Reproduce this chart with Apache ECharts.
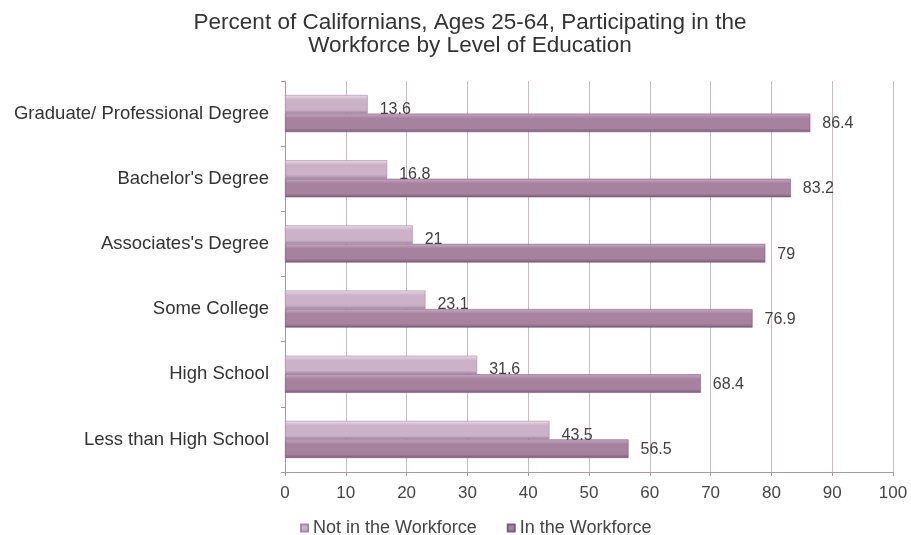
<!DOCTYPE html>
<html>
<head>
<meta charset="utf-8">
<script src="https://cdn.jsdelivr.net/npm/echarts@6/dist/echarts.min.js"></script>
<style>
  html, body { margin: 0; padding: 0; background: #ffffff; }
  #chart { width: 911px; height: 535px; }
</style>
</head>
<body>
<div id="chart"></div>
<script>
// Education levels, listed top to bottom
const categories = [
  'Graduate/ Professional Degree',
  "Bachelor's Degree",
  "Associates's Degree",
  'Some College',
  'High School',
  'Less than High School'
];
const notInWorkforce = [13.6, 16.8, 21, 23.1, 31.6, 43.5];
const inWorkforce = [86.4, 83.2, 79, 76.9, 68.4, 56.5];
const xTicks = [0, 10, 20, 30, 40, 50, 60, 70, 80, 90, 100];

const FONT = '"Liberation Sans", Arial, sans-serif';

function barGradient(top, mid, bottom) {
  return new echarts.graphic.LinearGradient(0, 0, 0, 1, [
    { offset: 0, color: top },
    { offset: 0.25, color: mid },
    { offset: 0.8, color: mid },
    { offset: 1, color: bottom }
  ]);
}

const chart = echarts.init(document.getElementById('chart'), null, { renderer: 'canvas' });

chart.setOption({
  backgroundColor: '#ffffff',
  animation: false,
  title: {
    text: 'Percent of Californians, Ages 25-64, Participating in the\nWorkforce by Level of Education',
    left: 470,
    top: 11,
    padding: 0,
    textAlign: 'center',
    textStyle: {
      fontFamily: FONT,
      fontSize: 22.5,
      fontWeight: 'normal',
      color: '#333333',
      lineHeight: 23
    }
  },
  legend: {
    left: 295,
    top: 514,
    icon: 'rect',
    itemWidth: 7,
    itemHeight: 7,
    itemGap: 30,
    textStyle: { fontFamily: FONT, fontSize: 18, color: '#444444', verticalAlign: 'top' },
    data: ['Not in the Workforce', 'In the Workforce']
  },
  grid: { left: 285, right: 18, top: 81, bottom: 63, containLabel: false },
  xAxis: {
    type: 'value',
    min: xTicks[0],
    max: xTicks[xTicks.length - 1],
    interval: xTicks[1] - xTicks[0],
    axisLine: { show: true, lineStyle: { color: '#a89a9a', width: 1 } },
    axisTick: { show: true, length: 4, lineStyle: { color: '#a89a9a' } },
    axisLabel: { fontFamily: FONT, fontSize: 17, color: '#444444', margin: 13 },
    splitLine: { show: true, lineStyle: { color: '#c9bcbc', width: 1 } }
  },
  yAxis: {
    type: 'category',
    inverse: true,
    data: categories,
    axisLine: { show: true, lineStyle: { color: '#a89a9a', width: 1 } },
    axisTick: { show: true, length: 4, lineStyle: { color: '#a89a9a' } },
    axisLabel: { fontFamily: FONT, fontSize: 18.5, color: '#333333', margin: 16, padding: [5, 0, 0, 0] },
    splitLine: { show: false }
  },
  series: [
    {
      name: 'Not in the Workforce',
      type: 'bar',
      data: notInWorkforce,
      barGap: '0%',
      barCategoryGap: '43%',
      itemStyle: {
        color: barGradient('#eadbe8', '#cbb2c8', '#9f839c'),
        borderColor: '#a58ba2',
        borderWidth: 0.6
      },
      label: {
        show: true,
        position: 'right',
        distance: 12,
        offset: [0, 5],
        fontFamily: FONT,
        fontSize: 16,
        color: '#404040'
      }
    },
    {
      name: 'In the Workforce',
      type: 'bar',
      data: inWorkforce,
      itemStyle: {
        color: barGradient('#c7a9c4', '#a6829f', '#7a5875'),
        borderColor: '#7f5d7b',
        borderWidth: 0.6
      },
      label: {
        show: true,
        position: 'right',
        distance: 12,
        offset: [0, 1],
        fontFamily: FONT,
        fontSize: 16,
        color: '#404040'
      }
    }
  ],
  color: ['#c4aac1', '#9f7c9b']
});
</script>
</body>
</html>
